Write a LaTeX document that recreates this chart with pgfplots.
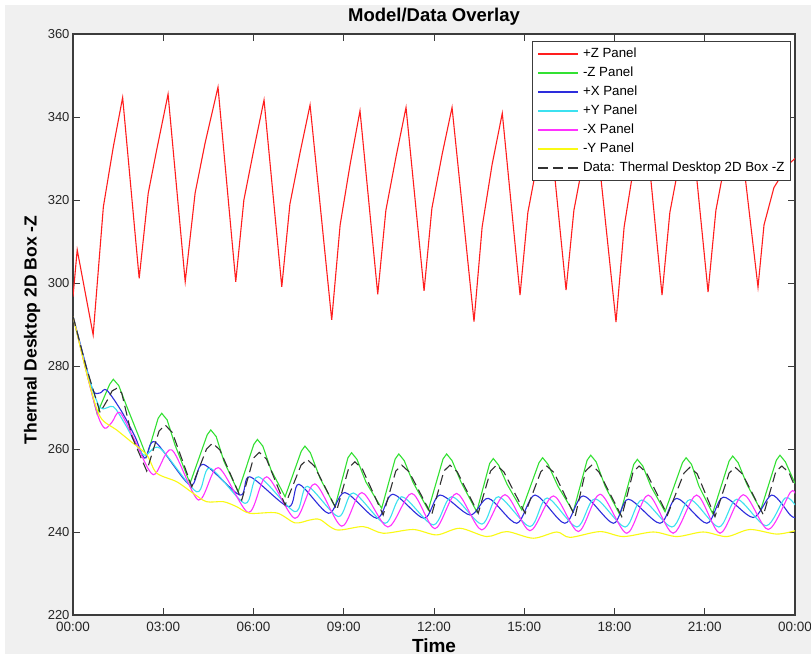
\documentclass[border=0pt]{standalone}
\usepackage{fontspec}
\setmainfont{Liberation Sans}
\usepackage{pgfplots}
\pgfplotsset{compat=1.18}
\definecolor{figbg}{RGB}{240,240,240}
\definecolor{axgray}{RGB}{60,60,60}
\definecolor{cred}{RGB}{255,30,30}
\definecolor{cgreen}{RGB}{50,225,50}
\definecolor{cblue}{RGB}{45,45,220}
\definecolor{ccyan}{RGB}{60,225,240}
\definecolor{cmag}{RGB}{255,50,255}
\definecolor{cyel}{RGB}{250,250,20}
\definecolor{cdata}{RGB}{50,50,50}
\begin{document}
\begin{tikzpicture}
\useasboundingbox (0pt,0pt) rectangle (811pt,658pt);
\fill[white] (0pt,0pt) rectangle (811pt,658pt);
\fill[figbg] (5pt,4pt) rectangle (811pt,653pt);
\begin{axis}[
  at={(73pt,43pt)}, anchor=south west,
  scale only axis, width=722pt, height=581pt,
  xmin=0, xmax=24, ymin=220, ymax=360,
  xtick={0,3,...,24},
  xticklabels={00:00,03:00,06:00,09:00,12:00,15:00,18:00,21:00,00:00},
  ytick={220,240,...,360},
  tick align=inside,
  major tick length=7pt,
  tick style={axgray, line width=0.9pt},
  axis line style={axgray, line width=1.3pt},
  axis background/.style={fill=white},
  /pgf/number format/assume math mode=true,
  /pgf/number format/.cd, 1000 sep={}, /pgfplots/.cd,
  xticklabel style={font=\fontsize{13.5}{15}\selectfont, text=black!85, inner ysep=0pt, yshift=-7pt},
  yticklabel style={font=\fontsize{13}{15}\selectfont, text=black!85, inner ysep=0pt},
  every axis title shift=0pt,
  title={\bfseries Model/Data Overlay},
  title style={at={(axis description cs:0.5,1.029)}, anchor=center, font=\fontsize{18.5}{20}\selectfont},
  xlabel={\bfseries Time},
  xlabel style={at={(axis description cs:0.5,-0.0534)}, anchor=center, font=\fontsize{19}{21}\selectfont},
  ylabel={\bfseries Thermal Desktop 2D Box -Z},
  ylabel style={at={(axis description cs:-0.0568,0.4905)}, anchor=center, font=\fontsize{17.5}{20}\selectfont},
  legend cell align=left,
  legend image code/.code={\draw[#1, line width=1.6pt] (0pt,0pt) -- (40pt,0pt); \path (43pt,0pt);},
  legend style={at={(axis description cs:0.636,0.988)}, anchor=north west,
    draw=axgray, line width=0.9pt, fill=white, inner sep=5pt, row sep=4pt,
    font=\fontsize{13.3}{15}\selectfont,
    nodes={inner sep=1pt, text height=10pt, text depth=3pt}},
  every axis plot/.append style={line width=1.1pt},
]
% +Z Panel
\addplot[cred] coordinates {
(0,296.7)(0.14,308)(0.67,287.5)(1.01,318.4)(1.34,332.8)(1.65,344.7)(2.20,301.1)(2.50,321.6)(2.78,332)(3.16,345.5)(3.73,300.3)(4.06,321.7)(4.39,333.7)(4.82,347.2)(5.41,300.3)(5.68,320)(6.02,332.5)(6.35,344.1)(6.94,299.1)(7.21,319)(7.55,331.5)(7.88,342.9)(8.60,291.1)(8.88,314)(9.21,328.5)(9.54,341.5)(10.13,297.3)(10.40,317.5)(10.74,330.5)(11.07,342.3)(11.67,298.1)(11.93,318)(12.27,331)(12.60,342.3)(13.33,290.7)(13.60,313.5)(13.93,328.5)(14.27,340.9)(14.86,297.1)(15.12,317)(15.46,330)(15.79,342)(16.39,298.3)(16.65,317.5)(16.99,330.5)(17.32,341)(18.05,290.6)(18.32,313.5)(18.65,328.5)(18.98,342)(19.58,297.1)(19.84,317)(20.18,330)(20.51,341.5)(21.11,297.8)(21.37,317.5)(21.71,330.5)(22.07,342.5)(22.77,299)(22.97,314)(23.30,323)(23.77,328.5)(24,330)
};
\addlegendentry{+Z Panel}
% -Z Panel
\addplot[cgreen] coordinates {
(0,292)(0.40,280)(0.80,268.5)(1.22,275.6)(1.34,276.8)(1.52,275.3)(1.79,270.2)(2.23,262.2)(2.45,258.1)(2.83,267.4)(2.95,268.6)(3.13,267)(3.39,261)(3.89,251.7)(4.46,263.4)(4.58,264.6)(4.76,263)(5.02,257)(5.49,249.7)(6.01,261.1)(6.13,262.3)(6.31,260.7)(6.58,255)(7.05,248.5)(7.59,259.5)(7.71,260.7)(7.89,259.1)(8.21,253)(8.71,246.1)(9.14,257.9)(9.26,259.1)(9.44,257.5)(9.74,252)(10.26,245.7)(10.71,257.6)(10.83,258.8)(11.01,257.2)(11.30,252)(11.81,245.3)(12.30,257.6)(12.42,258.8)(12.60,257.2)(12.90,252)(13.42,244.9)(13.85,256.5)(13.97,257.7)(14.15,256.1)(14.43,251.5)(14.92,245.3)(15.49,256.7)(15.61,257.9)(15.79,256.3)(16.12,251)(16.63,244.9)(17.09,257.3)(17.21,258.5)(17.39,256.9)(17.69,251)(18.18,244.1)(18.64,256.3)(18.76,257.5)(18.94,255.9)(19.21,251)(19.68,244.9)(20.26,256.7)(20.38,257.9)(20.56,256.3)(20.81,251)(21.26,244.5)(21.81,257.1)(21.93,258.3)(22.11,256.7)(22.40,251.5)(22.86,245.3)(23.38,257.3)(23.50,258.5)(23.68,256.9)(24,251.7)
};
\addlegendentry{-Z Panel}
% +X Panel
\addplot[cblue, smooth] coordinates {
(0,292)(0.40,281)(0.67,274)(0.90,273.5)(1.12,274.2)(1.62,269.0)(2.06,263)(2.39,257.8)(2.73,261.7)(3.89,251.3)(4.33,256.3)(5.55,248.9)(5.88,253.3)(7.16,246.1)(7.51,251.5)(8.49,244.5)(9.04,249.5)(10.10,243.3)(10.63,249.1)(11.67,243.3)(12.20,248.9)(13.20,244.1)(13.81,248.1)(14.75,242.1)(15.36,248.9)(16.35,242.1)(16.96,248.7)(17.96,242.1)(18.46,247.9)(19.51,242.1)(20.07,248.1)(21.07,242.1)(21.62,248.4)(22.61,243.5)(23.23,248.9)(23.84,244.1)(24,243.5)
};
\addlegendentry{+X Panel}
% +Y Panel
\addplot[ccyan, smooth] coordinates {
(0,292)(0.50,278)(0.90,270)(1.34,270.2)(1.73,266)(2.34,258.6)(2.89,260.2)(4.11,249.7)(4.55,255.4)(5.72,246.9)(6.16,253.3)(7.38,244.9)(7.79,251)(8.82,243.7)(9.32,249.4)(10.37,242.1)(10.93,248.5)(11.98,241.7)(12.59,248.5)(13.59,241.9)(14.14,248.5)(15.19,241.3)(15.76,248.2)(16.75,241.2)(17.35,248)(18.35,241.2)(18.91,247.7)(19.91,241.2)(20.51,247.8)(21.47,241.2)(22.07,247.9)(23.04,241.5)(23.67,248.2)(24,246.5)
};
\addlegendentry{+Y Panel}
% -X Panel
\addplot[cmag, smooth] coordinates {
(0,292)(0.50,277)(0.83,268)(1.06,265)(1.30,266.5)(1.56,268.8)(2.06,262)(2.67,253.8)(3.28,259.8)(4.17,247.7)(4.83,255.5)(5.83,244.7)(6.44,253.3)(7.38,243.3)(8.04,251.6)(8.93,241.4)(9.60,249.5)(10.47,241.2)(11.26,249.3)(12.03,240.8)(12.75,249.3)(13.59,240.5)(14.36,249)(15.19,240.3)(15.97,248.7)(16.80,240.1)(17.52,249.1)(18.41,239.7)(19.12,248.9)(19.95,239.7)(20.73,248.9)(21.51,239.7)(22.28,249)(23.11,240.6)(23.84,249.5)(24,249.3)
};
\addlegendentry{-X Panel}
% -Y Panel
\addplot[cyel, smooth] coordinates {
(0,292)(0.50,277)(0.90,267.8)(1.45,264.6)(1.89,262)(2.45,258.6)(2.78,254.2)(3.45,252.1)(4.00,249.3)(4.44,247.3)(5.00,247.3)(5.44,246.1)(5.88,244.5)(6.77,244.6)(7.38,242.2)(7.88,242.9)(8.21,243)(8.77,240.5)(9.65,241.3)(10.31,239.7)(11.31,240.6)(12.09,239.3)(12.86,240.9)(13.75,238.9)(14.42,240.1)(15.30,238.5)(16.08,240.0)(16.52,238.7)(17.52,240.1)(18.29,238.9)(19.29,240)(20.07,238.9)(20.95,240)(21.73,238.9)(22.50,240.6)(23.39,239.5)(24,240.3)
};
\addlegendentry{-Y Panel}
% Data
\addplot[cdata, dash pattern=on 10pt off 5pt] coordinates {
(0,292)(0.43,280)(0.90,268.8)(1.16,272)(1.30,274)(1.45,274.6)(1.62,273.5)(1.96,263)(2.45,254.7)(2.86,264.3)(3.06,265.8)(3.30,264.0)(3.95,250.9)(4.44,260)(4.64,261.4)(4.88,259.8)(5.61,247.7)(6.00,257.8)(6.19,259.2)(6.43,257.6)(7.05,246.5)(7.58,256.1)(7.78,257.5)(8.02,255.9)(8.77,245.3)(9.17,255.5)(9.37,256.9)(9.61,255.3)(10.31,244.1)(10.73,254.7)(10.93,256.1)(11.17,254.5)(11.92,244.1)(12.33,254.7)(12.53,256.1)(12.77,254.5)(13.47,244.5)(13.88,254.7)(14.08,256.1)(14.32,254.5)(15.03,244.5)(15.55,254.5)(15.75,255.9)(15.99,254.3)(16.69,243.7)(17.04,254.7)(17.24,256.1)(17.48,254.5)(18.24,243.7)(18.62,254.5)(18.82,255.9)(19.06,254.3)(19.76,244.1)(20.31,254.2)(20.51,255.6)(20.75,254.0)(21.34,243.7)(21.81,254.2)(22.01,255.6)(22.25,254.0)(22.95,244.1)(23.36,254.5)(23.56,255.9)(23.80,254.3)(24,250.9)
};
\addlegendentry{Data: Thermal Desktop 2D Box -Z}
\end{axis}
\end{tikzpicture}
\end{document}
